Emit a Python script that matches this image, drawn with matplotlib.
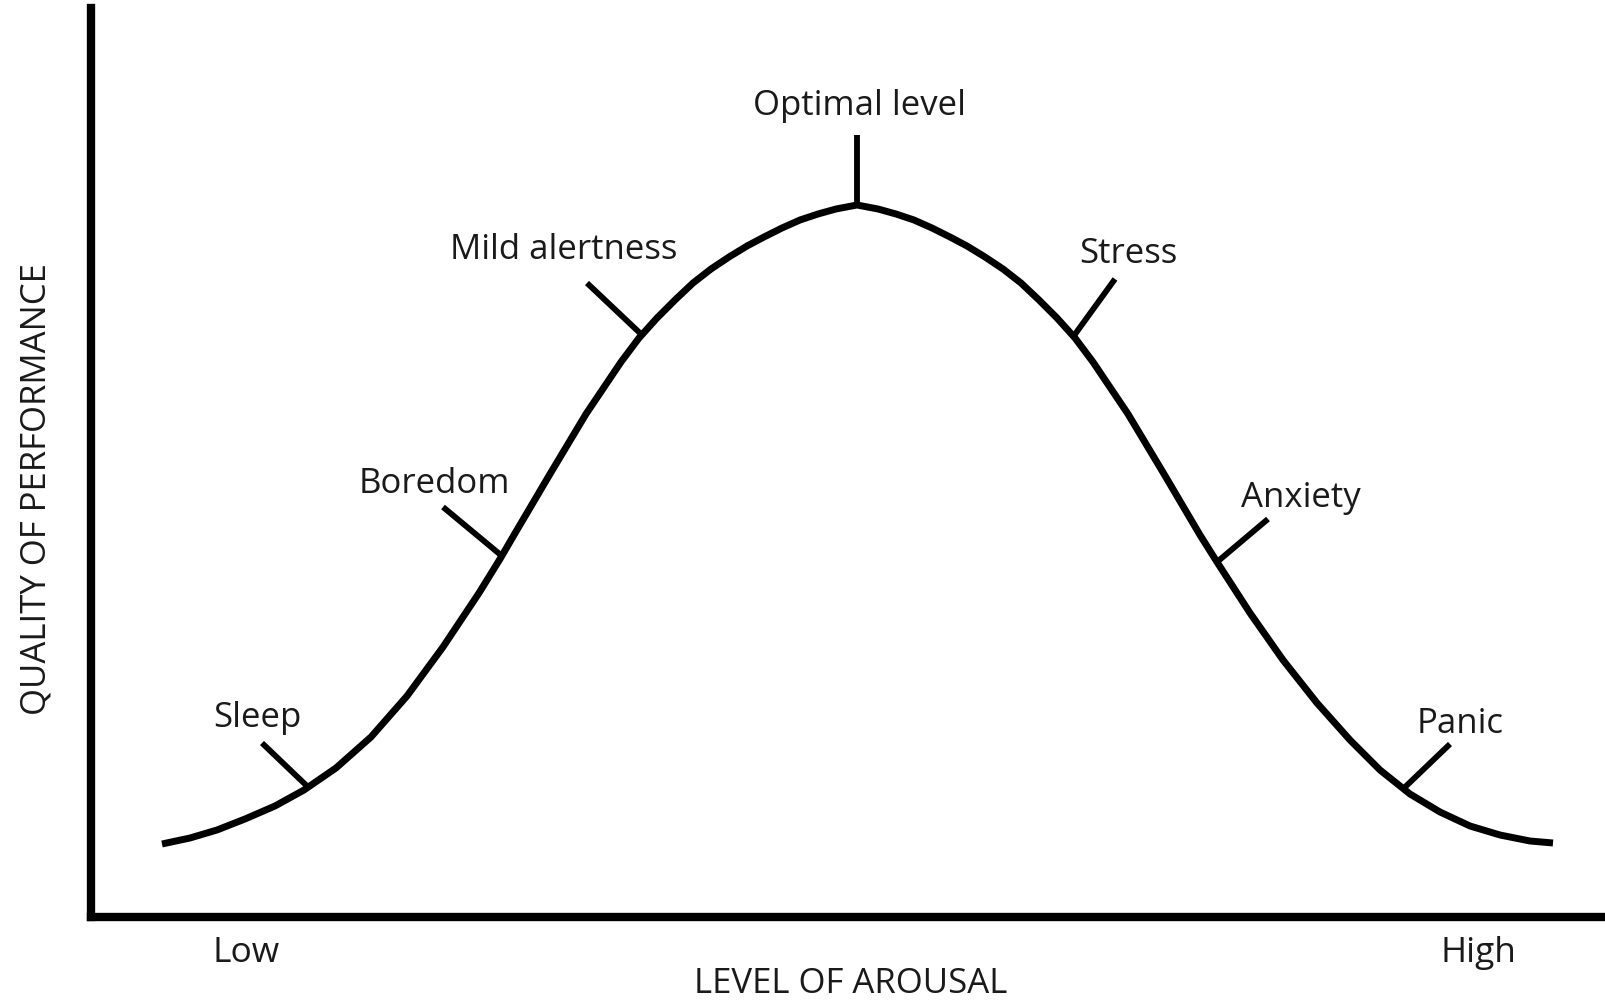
import matplotlib
matplotlib.use('Agg')
import matplotlib.pyplot as plt

plt.rcParams['font.family'] = ['Open Sans', 'DejaVu Sans']

# Curve (arbitrary units, origin at the axes corner)
arousal = [71, 99, 126, 154, 184, 213, 245, 280, 316, 352, 388, 409, 423, 459,
           495, 530, 548, 566, 584, 602, 620, 638, 656, 673, 691, 709, 727, 745, 766,
           787, 805, 823, 841, 859, 876, 894, 912, 930, 948, 966, 984,
           1002, 1037, 1073, 1109, 1126,
           1159, 1192, 1226, 1259, 1289, 1319, 1349, 1379, 1409, 1439, 1462]
performance = [73, 79, 87, 98, 111, 127, 149, 180, 221, 270, 324, 358, 382, 443,
               503, 555, 579, 599, 617, 634, 648, 660, 671, 680, 689, 697, 703, 708, 712,
               708, 703, 697, 689, 680, 671, 660, 648, 634, 617, 599, 579,
               555, 503, 443, 382, 355,
               304, 257, 214, 177, 147, 123, 105, 91, 82, 76, 74]

# Labelled states: point on the curve, end of the little tick, label position
states = ['Sleep', 'Boredom', 'Mild alertness', 'Optimal level', 'Stress', 'Anxiety', 'Panic']
state_x = [217, 411, 551, 766, 982, 1126, 1312]
state_y = [130, 361, 582, 712, 580, 355, 128]
tick_x = [171, 352, 496, 766, 1024, 1177, 1359]
tick_y = [174, 410, 634, 782, 638, 398, 173]
label_x = [166, 343, 473, 769, 1037, 1210, 1369]
label_y = [190, 424, 658, 802, 654, 410, 184]

ends = ['Low', 'High']
ends_x = [155, 1387]

fig = plt.figure(figsize=(16.06, 10.01), dpi=100)
ax = fig.add_axes([91 / 1606, 84 / 1001, 1515 / 1606, 909 / 1001])
ax.set_xlim(0, 1515)
ax.set_ylim(0, 909)

ax.plot(arousal, performance, color='black', lw=5, solid_capstyle='butt',
        solid_joinstyle='round')

for i in range(len(states)):
    ax.plot([state_x[i], tick_x[i]], [state_y[i], tick_y[i]], color='black', lw=4.2,
            solid_capstyle='butt')
    ax.text(label_x[i], label_y[i], states[i], ha='center', va='baseline',
            fontsize=25, color='#1a1a1a')

for name, xx in zip(ends, ends_x):
    ax.text(xx, -45, name, ha='center', va='baseline', fontsize=25.5,
            color='#1a1a1a', clip_on=False)

ax.text(760, -76, 'LEVEL OF AROUSAL', ha='center', va='baseline', fontsize=25,
        color='#1a1a1a', clip_on=False)
ax.text(-54, 428, 'QUALITY OF PERFORMANCE', ha='center', va='center', rotation=90,
        fontsize=25, color='#1a1a1a', clip_on=False)

for s in ['top', 'right']:
    ax.spines[s].set_visible(False)
for s in ['left', 'bottom']:
    ax.spines[s].set_linewidth(6)
    ax.spines[s].set_color('black')
ax.set_xticks([])
ax.set_yticks([])

fig.savefig('out.png', dpi=100)
